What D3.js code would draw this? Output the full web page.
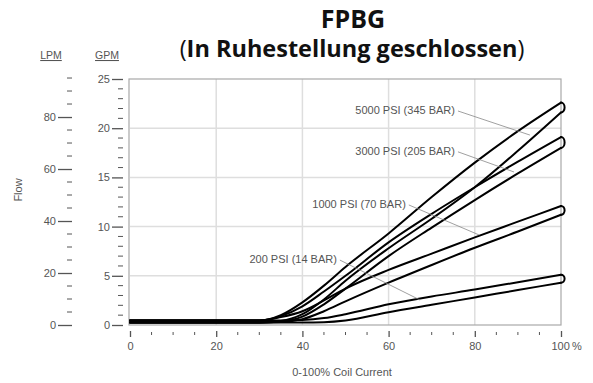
<!DOCTYPE html>
<html>
<head>
<meta charset="utf-8">
<script src="https://cdn.jsdelivr.net/npm/d3@7"></script>
<style>
  html, body { margin: 0; padding: 0; background: #fff; }
  svg { display: block; }
</style>
</head>
<body>
<svg id="chart"></svg>
<script>
const width = 593
const height = 383

// coil current (%) where each branch is sampled
const coil = [0, 30, 35, 40, 45, 50, 60, 70, 80, 90, 100]

// flow in GPM, rising edge (upper) and falling edge (lower) of each hysteresis loop
const psi5000Up = [0.45, 0.45, 1.0, 2.3, 4.0, 5.9, 9.3, 13.0, 16.5, 19.7, 22.6]
const psi5000Down = [0.25, 0.25, 0.4, 1.1, 2.6, 4.5, 7.8, 10.8, 14.0, 17.7, 21.6]
const psi3000Up = [0.45, 0.45, 0.9, 1.9, 3.4, 5.0, 8.4, 11.3, 14.0, 16.6, 19.1]
const psi3000Down = [0.25, 0.25, 0.35, 0.85, 2.1, 3.7, 7.0, 9.9, 12.7, 15.4, 18.0]
const psi1000Up = [0.45, 0.45, 0.8, 1.4, 2.5, 3.7, 5.6, 7.25, 8.9, 10.5, 12.1]
const psi1000Down = [0.25, 0.25, 0.3, 0.6, 1.4, 2.4, 4.3, 6.1, 7.85, 9.5, 11.2]
const psi200Up = [0.45, 0.45, 0.45, 0.5, 0.7, 1.1, 2.1, 2.9, 3.6, 4.35, 5.1]
const psi200Down = [0.25, 0.25, 0.25, 0.25, 0.28, 0.45, 1.3, 2.05, 2.8, 3.55, 4.3]

const seriesNames = ['5000 PSI (345 BAR)', '3000 PSI (205 BAR)', '1000 PSI (70 BAR)', '200 PSI (14 BAR)']
const seriesUp = [psi5000Up, psi3000Up, psi1000Up, psi200Up]
const seriesDown = [psi5000Down, psi3000Down, psi1000Down, psi200Down]

// label anchors [pct, gpm] for the text end and the leader end
const labelAt = [[75.4, 21.85], [75.4, 17.7], [64.0, 12.3], [48.0, 6.7]]
const leaderTo = [[92.8, 19.3], [89.1, 15.55], [81.0, 9.15], [67.3, 2.54]]

const xTicks = [0, 20, 40, 60, 80, 100]
const gpmTicks = [0, 5, 10, 15, 20, 25]
const lpmTicks = [0, 20, 40, 60, 80]
const gpmToLpm = 3.785

const svg = d3.select('#chart').attr('width', width).attr('height', height)
  .attr('viewBox', [0, 0, width, height])

const x = d3.scaleLinear().domain([0, 100]).range([130, 561])
const y = d3.scaleLinear().domain([0, 25]).range([325, 79])
const yL = d3.scaleLinear().domain([0, 25 * gpmToLpm]).range([325, 79])

const grey = '#555'
const axisFont = '"Liberation Sans", Arial, sans-serif'

// title
const title = svg.append('g').attr('font-family', '"Open Sans", sans-serif').attr('fill', '#111')
  .attr('text-anchor', 'middle')
title.append('text').attr('x', 353).attr('y', 28).attr('font-size', 25).attr('font-weight', 700).text('FPBG')
const sub = title.append('text').attr('x', 352).attr('y', 57).attr('font-size', 23.5)
sub.append('tspan').attr('font-weight', 400).text('(')
sub.append('tspan').attr('font-weight', 700).text('In Ruhestellung geschlossen')
sub.append('tspan').attr('font-weight', 400).text(')')

// grid + frame
const grid = svg.append('g').attr('stroke', '#dedede').attr('stroke-width', 1.5)
grid.selectAll('.vx').data([20, 40, 60, 80]).join('line')
  .attr('x1', (d) => x(d)).attr('x2', (d) => x(d)).attr('y1', y(25)).attr('y2', y(0))
grid.selectAll('.hy').data([5, 10, 15, 20]).join('line')
  .attr('y1', (d) => y(d)).attr('y2', (d) => y(d)).attr('x1', x(0)).attr('x2', x(100))

svg.append('rect').attr('x', x(0) - 1).attr('y', y(25)).attr('width', x(100) - x(0) + 1).attr('height', y(0) - y(25))
  .attr('fill', 'none').attr('stroke', '#a8a8a8').attr('stroke-width', 1.2)

// GPM axis
const gpmAxis = svg.append('g').attr('transform', 'translate(123,0)')
  .call(d3.axisLeft(y).tickValues(gpmTicks).tickSize(11).tickPadding(2).tickFormat(d3.format('d')))
gpmAxis.append('g').selectAll('line').data(d3.range(0, 26).filter((d) => d % 5)).join('line')
  .attr('x1', -5).attr('x2', 0).attr('y1', (d) => y(d)).attr('y2', (d) => y(d))
  .attr('stroke', grey)

// LPM axis
const lpmAxis = svg.append('g').attr('transform', 'translate(72,0)')
  .call(d3.axisLeft(yL).tickValues(lpmTicks).tickSize(14).tickPadding(2).tickFormat(d3.format('d')))
lpmAxis.append('g').selectAll('line').data(d3.range(5, 96, 5).filter((d) => d % 20)).join('line')
  .attr('x1', -5).attr('x2', 0).attr('y1', (d) => yL(d)).attr('y2', (d) => yL(d))
  .attr('stroke', grey)

// x axis
const xAxis = svg.append('g').attr('transform', 'translate(0,331)')
  .call(d3.axisBottom(x).tickValues(xTicks).tickSize(6).tickPadding(5)
    .tickFormat((d) => (d === 100 ? '100\u2009%' : d)))
xAxis.append('g').selectAll('line').data(d3.range(5, 100, 5).filter((d) => d % 20)).join('line')
  .attr('x1', (d) => x(d)).attr('x2', (d) => x(d)).attr('y1', 1).attr('y2', 4)
  .attr('stroke', grey)
xAxis.selectAll('.tick').filter((d) => d === 100).select('text').attr('text-anchor', 'start').attr('dx', -10)

for (const ax of [gpmAxis, lpmAxis, xAxis]) {
  ax.select('.domain').remove()
  ax.attr('font-family', axisFont).attr('font-size', 11)
  ax.selectAll('.tick line').attr('stroke', grey).attr('stroke-width', 1.3)
  ax.selectAll('.tick text').attr('fill', grey)
}

// axis titles
const labels = svg.append('g').attr('font-family', axisFont).attr('fill', grey).attr('font-size', 11)
labels.append('text').attr('x', 51).attr('y', 59).attr('text-anchor', 'middle').attr('font-size', 10.5)
  .attr('text-decoration', 'underline').text('LPM')
labels.append('text').attr('x', 107).attr('y', 59).attr('text-anchor', 'middle').attr('font-size', 10.5)
  .attr('text-decoration', 'underline').text('GPM')
labels.append('text').attr('transform', 'translate(22,190) rotate(-90)').attr('text-anchor', 'middle').text('Flow')
labels.append('text').attr('x', 342).attr('y', 376).attr('text-anchor', 'middle').text('0-100% Coil Current')

// hysteresis loops: two smooth branches joined by a rounded tip at 100 %
const branch = d3.line().x((d) => x(d[0])).y((d) => y(d[1])).curve(d3.curveMonotoneX)

const loopPath = (up, down) => {
  const upPts = coil.map((c, j) => [c, up[j]])
  const downPts = coil.map((c, j) => [c, down[j]])
  const yTop = y(up[up.length - 1])
  const yBot = y(down[down.length - 1])
  const xEnd = x(100)
  const ry = (yBot - yTop) / 2
  const tip = `M${xEnd},${yTop}A3.6,${ry} 0 0 1 ${xEnd},${yBot}`
  return [branch(upPts), branch(downPts), tip]
}

const loopG = svg.append('g').attr('fill', 'none').attr('stroke', '#000').attr('stroke-width', 2)
  .attr('stroke-linejoin', 'round').attr('stroke-linecap', 'round')
seriesUp.forEach((up, i) => {
  loopG.append('g').selectAll('path').data(loopPath(up, seriesDown[i])).join('path').attr('d', (d) => d)
})

// annotations
const ann = svg.append('g').attr('font-family', axisFont).attr('font-size', 11).attr('fill', grey)
seriesNames.forEach((name, i) => {
  const [lx, ly] = labelAt[i]
  const [tx, ty] = leaderTo[i]
  ann.append('text').attr('x', x(lx)).attr('y', y(ly)).attr('dy', '0.35em').attr('text-anchor', 'end').text(name)
  ann.append('line').attr('x1', x(lx) + 3).attr('y1', y(ly) + 1).attr('x2', x(tx)).attr('y2', y(ty))
    .attr('stroke', '#888').attr('stroke-width', 0.8)
})
</script>
</body>
</html>
